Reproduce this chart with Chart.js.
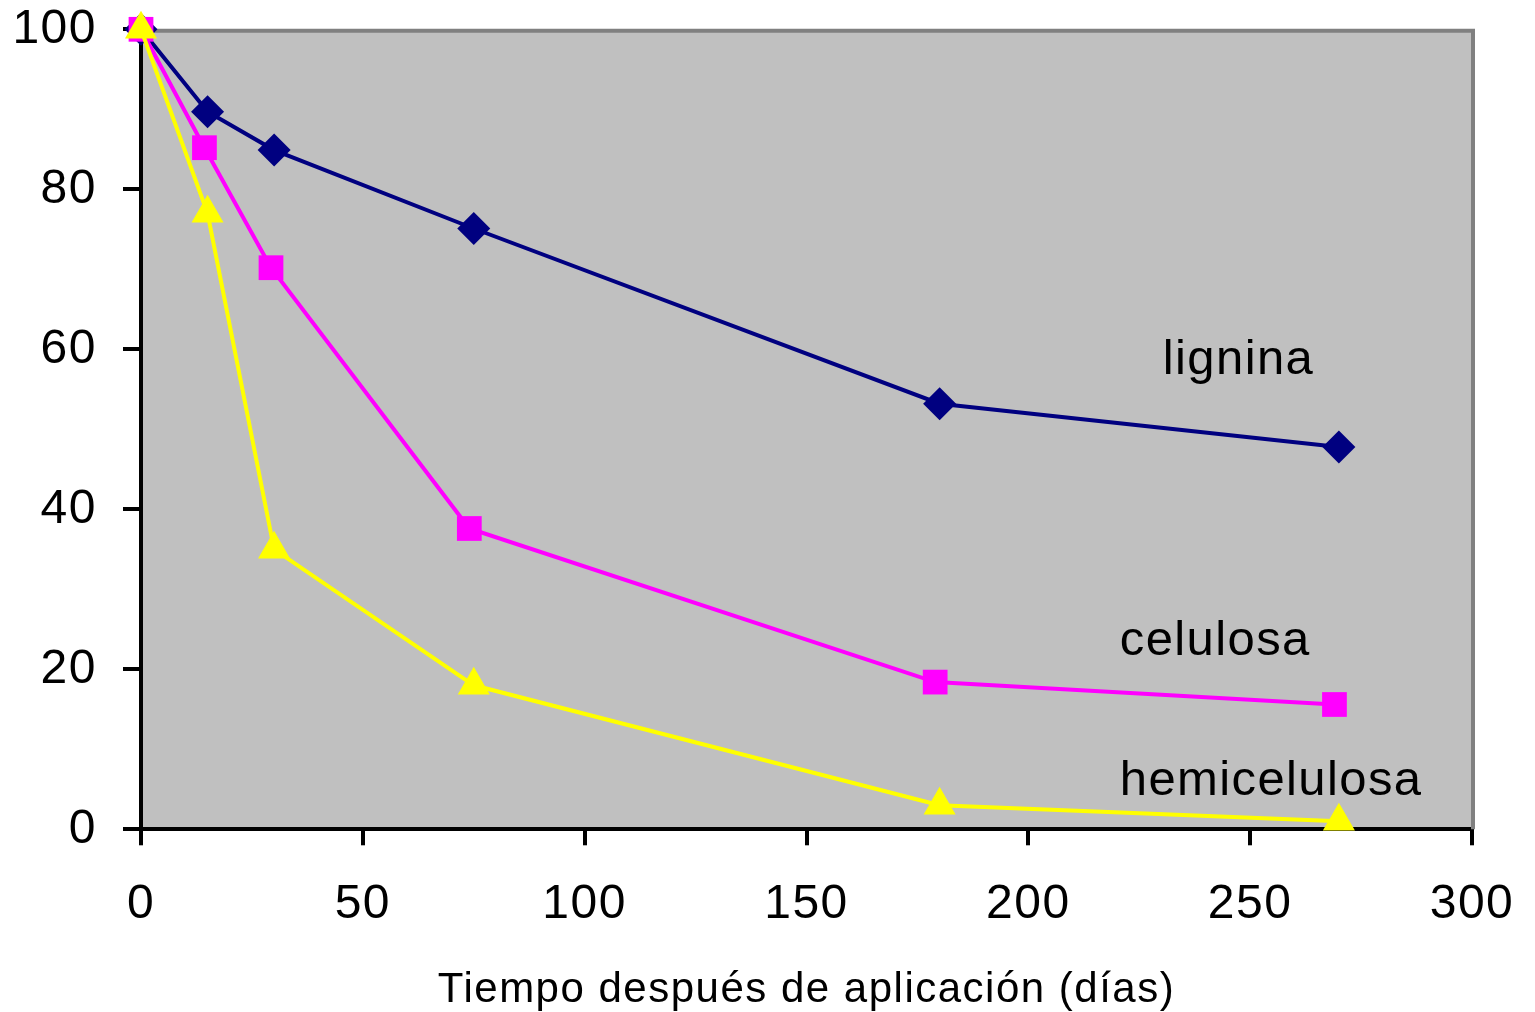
<!DOCTYPE html>
<html>
<head>
<meta charset="utf-8">
<title>Descomposición de lignina, celulosa y hemicelulosa</title>
<script src="https://cdn.jsdelivr.net/npm/chart.js@4/dist/chart.umd.min.js"></script>
<style>
  html, body { margin: 0; padding: 0; background: #ffffff; }
  #wrap { width: 1535px; height: 1012px; }
</style>
</head>
<body>
<div id="wrap"><canvas id="c" width="1535" height="1012"></canvas></div>
<script>
// Días después de la aplicación y porcentaje remanente de cada componente
const diasLignina = [0, 15, 30, 75, 180, 270];
const lignina = [100, 89.7, 84.9, 75.1, 53.2, 47.8];

const diasCelulosa = [0, 14.3, 29.3, 74, 179, 269];
const celulosa = [100, 85.2, 70.2, 37.6, 18.4, 15.6];

const diasHemicelulosa = [0, 15, 30, 75, 180, 270];
const hemicelulosa = [100, 77, 35, 18, 3, 1];

const xTicks = [0, 50, 100, 150, 200, 250, 300];
const yTicks = [0, 20, 40, 60, 80, 100];
const xTitle = 'Tiempo después de aplicación (días)';

// Etiquetas de serie dentro del área de trazado (posición en unidades de datos)
const seriesLabels = [
  { text: 'lignina', x: 230.3, y: 56.9 },
  { text: 'celulosa', x: 220.6, y: 21.8 },
  { text: 'hemicelulosa', x: 220.6, y: 4.3 }
];

const FONT = "'Liberation Sans', Arial, sans-serif";

function toPoints(xs, ys) {
  return xs.map((x, i) => ({ x: x, y: ys[i] }));
}

const plotFrame = {
  id: 'plotFrame',
  beforeDraw(chart) {
    const { ctx, chartArea: a } = chart;
    ctx.letterSpacing = '1.5px';
    ctx.save();
    ctx.fillStyle = '#c0c0c0';
    ctx.fillRect(a.left, a.top, a.right - a.left, a.bottom - a.top);
    ctx.restore();
  },
  beforeDatasetsDraw(chart) {
    const { ctx, chartArea: a } = chart;
    ctx.save();
    ctx.strokeStyle = '#808080';
    ctx.lineWidth = 4;
    ctx.beginPath();
    ctx.moveTo(a.left, a.top + 1.5);
    ctx.lineTo(a.right + 1, a.top + 1.5);
    ctx.lineTo(a.right + 1, a.bottom);
    ctx.stroke();
    ctx.restore();
  },
  afterDatasetsDraw(chart) {
    const { ctx } = chart;
    const xs = chart.scales.x, ys = chart.scales.y;
    ctx.save();
    ctx.letterSpacing = '1.4px';
    ctx.fillStyle = '#000000';
    ctx.font = '49px ' + FONT;
    ctx.textAlign = 'left';
    ctx.textBaseline = 'alphabetic';
    seriesLabels.forEach(l => {
      ctx.fillText(l.text, xs.getPixelForValue(l.x), ys.getPixelForValue(l.y));
    });
    ctx.restore();
  }
};

new Chart(document.getElementById('c'), {
  type: 'line',
  data: {
    datasets: [
      {
        label: 'lignina',
        data: toPoints(diasLignina, lignina),
        borderColor: '#000080',
        backgroundColor: '#000080',
        borderWidth: 4,
        pointStyle: 'rectRot',
        pointRadius: 16.5,
        pointBorderWidth: 0,
        order: 3,
        clip: false
      },
      {
        label: 'celulosa',
        data: toPoints(diasCelulosa, celulosa),
        borderColor: '#ff00ff',
        backgroundColor: '#ff00ff',
        borderWidth: 4,
        pointStyle: 'rect',
        pointRadius: 17.5,
        pointBorderWidth: 0,
        order: 2,
        clip: false
      },
      {
        label: 'hemicelulosa',
        data: toPoints(diasHemicelulosa, hemicelulosa),
        borderColor: '#ffff00',
        backgroundColor: '#ffff00',
        borderWidth: 4,
        pointStyle: 'triangle',
        pointRadius: 18.5,
        pointBorderWidth: 0,
        order: 1,
        clip: false
      }
    ]
  },
  options: {
    responsive: false,
    animation: false,
    events: [],
    layout: { padding: { top: 29.3, right: 63, left: 0, bottom: 0 } },
    plugins: {
      legend: { display: false },
      tooltip: { enabled: false },
      title: { display: false }
    },
    elements: { line: { tension: 0 } },
    scales: {
      x: {
        type: 'linear',
        min: 0,
        max: 300,
        afterBuildTicks(scale) { scale.ticks = xTicks.map(v => ({ value: v })); },
        afterFit(scale) {
          scale.height = 182.7;
          scale.paddingLeft = 0;
          scale.paddingRight = 0;
        },
        border: { display: true, color: '#000000', width: 4 },
        grid: { drawOnChartArea: false, drawTicks: true, tickLength: 16, color: '#000000', lineWidth: 4 },
        ticks: { color: '#000000', font: { family: FONT, size: 48 }, padding: 31, maxRotation: 0, autoSkip: false },
        title: {
          display: true,
          text: xTitle,
          color: '#000000',
          font: { family: FONT, size: 42 },
          padding: { top: 0, bottom: -4 }
        }
      },
      y: {
        type: 'linear',
        min: 0,
        max: 100,
        afterBuildTicks(scale) { scale.ticks = yTicks.map(v => ({ value: v })); },
        afterFit(scale) {
          scale.width = 141;
          scale.paddingTop = 0;
          scale.paddingBottom = 0;
        },
        border: { display: true, color: '#000000', width: 4 },
        grid: { drawOnChartArea: false, drawTicks: true, tickLength: 18, color: '#000000', lineWidth: 4 },
        ticks: { color: '#000000', font: { family: FONT, size: 48 }, padding: 26, autoSkip: false }
      }
    }
  },
  plugins: [plotFrame]
});
</script>
</body>
</html>
